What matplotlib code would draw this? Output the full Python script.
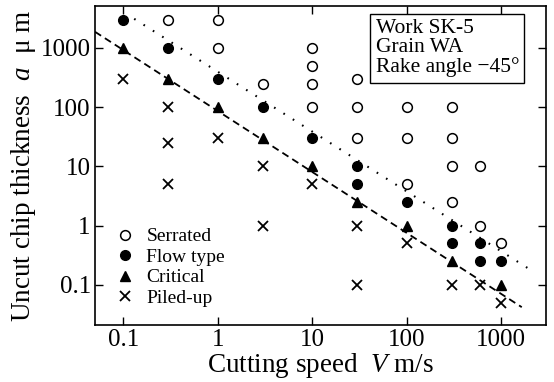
import matplotlib
matplotlib.use("Agg")
import matplotlib.pyplot as plt

plt.rcParams['font.family'] = ['Liberation Serif', 'DejaVu Serif']
plt.rcParams['mathtext.fontset'] = 'custom'
plt.rcParams['mathtext.rm'] = 'Liberation Serif'
plt.rcParams['mathtext.it'] = 'Liberation Serif:italic'

# Serrated (open circles)
serr_v = [0.3, 1, 1, 3, 10, 10, 10, 10, 30, 30, 30, 100, 100, 100, 300, 300, 300, 300, 600, 600, 1000]
serr_a = [3000, 3000, 1000, 250, 1000, 500, 250, 100, 300, 100, 30, 100, 30, 5, 100, 30, 10, 2.5, 10, 1, 0.5]
# Flow type (filled circles)
flow_v = [0.1, 0.3, 1, 3, 10, 30, 30, 100, 300, 300, 600, 600, 1000]
flow_a = [3000, 1000, 300, 100, 30, 10, 5, 2.5, 1, 0.5, 0.5, 0.25, 0.25]
# Critical (triangles)
crit_v = [0.1, 0.3, 1, 3, 10, 30, 100, 300, 1000]
crit_a = [1000, 300, 100, 30, 10, 2.5, 1, 0.25, 0.1]
# Piled-up (crosses)
pile_v = [0.1, 0.3, 0.3, 0.3, 1, 3, 3, 10, 30, 30, 100, 300, 600, 1000]
pile_a = [300, 100, 25, 5, 30, 10, 1, 5, 1, 0.1, 0.5, 0.1, 0.1, 0.05]

# boundary lines
crit_line_v = [0.05, 1660]
crit_line_a = [1870, 0.042]
flow_line_v = [0.13, 2300]
flow_line_a = [3100, 0.16]

xticks = [0.1, 1, 10, 100, 1000]
xticklabels = ['0.1', '1', '10', '100', '1000']
yticks = [0.1, 1, 10, 100, 1000]
yticklabels = ['0.1', '1', '10', '100', '1000']

fig = plt.figure(figsize=(5.54, 3.82), dpi=100)
ax = fig.add_axes([0.1715, 0.1492, 0.8141, 0.8351])
ax.set_xscale('log')
ax.set_yscale('log')
ax.set_xlim(0.05, 3000)
ax.set_ylim(0.021, 5100)

ax.plot(crit_line_v, crit_line_a, color='black', lw=1.3, linestyle=(0, (4, 2.5)), zorder=1)
ax.plot(flow_line_v, flow_line_a, color='black', lw=1.5, linestyle=(0, (0.8, 4.5)), zorder=1)

ms = 7
ax.plot(serr_v, serr_a, linestyle='none', marker='o', ms=ms, mfc='white', mec='black', mew=1.1, label='Serrated', zorder=3)
ax.plot(flow_v, flow_a, linestyle='none', marker='o', ms=ms, mfc='black', mec='black', label='Flow type', zorder=3)
ax.plot(crit_v, crit_a, linestyle='none', marker='^', ms=ms + 0.5, mfc='black', mec='black', label='Critical', zorder=3)
ax.plot(pile_v, pile_a, linestyle='none', marker='x', ms=ms, mec='black', mew=1.3, label='Piled-up', zorder=3)

ax.set_xticks(xticks)
ax.set_xticklabels(xticklabels)
ax.set_yticks(yticks)
ax.set_yticklabels(yticklabels)
ax.minorticks_off()
ax.tick_params(which='both', direction='in', length=6, width=1, top=True, right=True,
               labelsize=18, pad=3)
for s in ax.spines.values():
    s.set_linewidth(1.2)

ax.set_xlabel('Cutting speed  $V$ m/s', fontsize=19.5, labelpad=0)
ax.set_ylabel('Uncut chip thickness  $a$  μ m', fontsize=19.5, labelpad=2)

leg = ax.legend(loc='upper left', bbox_to_anchor=(0.045, 0.305), frameon=False,
                fontsize=14, handlelength=1.0, handletextpad=0.6, labelspacing=0.15,
                borderpad=0, borderaxespad=0)

ax.text(0.622, 0.958, 'Work SK-5\nGrain WA\nRake angle −45°', transform=ax.transAxes,
        ha='left', va='top', fontsize=15.5, linespacing=1.0,
        bbox=dict(boxstyle='square,pad=0.25', fc='white', ec='black', lw=1), zorder=5)

fig.savefig('out.png', dpi=100)
